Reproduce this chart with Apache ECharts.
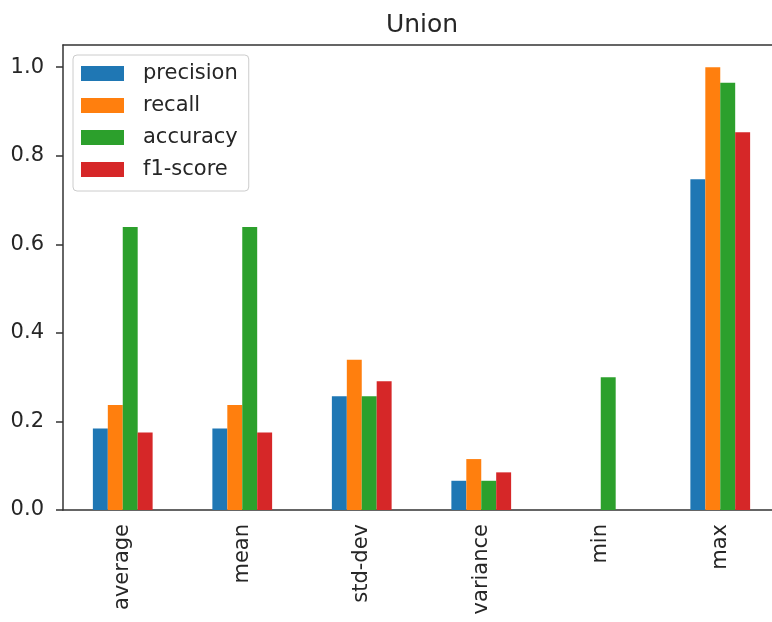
<!DOCTYPE html>
<html>
<head>
<meta charset="utf-8">
<title>Union</title>
<script src="https://cdn.jsdelivr.net/npm/echarts@6/dist/echarts.min.js"></script>
<style>
  html, body { margin: 0; padding: 0; background: #ffffff; }
  #chart { width: 772px; height: 622px; }
</style>
</head>
<body>
<div id="chart"></div>
<script>
// Summary statistics per metric
const categories = ['average', 'mean', 'std-dev', 'variance', 'min', 'max'];
const precision = [0.184, 0.184, 0.257, 0.066, 0.0, 0.747];
const recall    = [0.237, 0.237, 0.339, 0.115, 0.0, 1.0];
const accuracy  = [0.639, 0.639, 0.257, 0.066, 0.300, 0.965];
const f1Score   = [0.175, 0.175, 0.291, 0.085, 0.0, 0.853];
const yTicks = [0.0, 0.2, 0.4, 0.6, 0.8, 1.0];

const seriesNames = ['precision', 'recall', 'accuracy', 'f1-score'];
const seriesColors = ['#1f77b4', '#ff7f0e', '#2ca02c', '#d62728'];
const seriesValues = [precision, recall, accuracy, f1Score];

const FONT = 'DejaVu Sans';
const TEXT = '#262626';
const SPINE = '#333333';

const chart = echarts.init(document.getElementById('chart'), null, { renderer: 'canvas' });

chart.setOption({
  backgroundColor: '#ffffff',
  animation: false,
  title: {
    text: 'Union',
    left: 417, textAlign: 'center',
    top: 8,
    textStyle: { fontFamily: FONT, fontSize: 25, fontWeight: 'normal', color: TEXT }
  },
  legend: {
    orient: 'vertical',
    left: 73, top: 55,
    padding: [8, 11, 11, 8],
    itemWidth: 43, itemHeight: 15,
    itemGap: 11,
    icon: 'rect',
    backgroundColor: 'rgba(255,255,255,0.85)',
    borderColor: '#cccccc', borderWidth: 1, borderRadius: 4,
    textStyle: { fontFamily: FONT, fontSize: 21, color: TEXT, lineHeight: 21, padding: [0, 0, 0, 14] },
    data: seriesNames
  },
  // plot area runs past the right edge of the canvas
  grid: {
    left: 63, top: 45, width: 717, height: 465,
    outerBoundsMode: 'none',
    containLabel: false,
    show: false
  },
  xAxis: [{
    type: 'category',
    data: categories,
    axisLine: { lineStyle: { color: SPINE, width: 1.5 } },
    axisTick: { alignWithLabel: true, length: 7, lineStyle: { color: SPINE, width: 1.5 } },
    axisLabel: { rotate: 90, margin: 14, fontFamily: FONT, fontSize: 21, color: TEXT },
    splitLine: { show: false }
  }, {
    // top spine
    type: 'category',
    position: 'top',
    data: categories,
    axisLine: { show: true, lineStyle: { color: SPINE, width: 1.5 } },
    axisTick: { show: false },
    axisLabel: { show: false },
    splitLine: { show: false }
  }],
  yAxis: {
    type: 'value',
    min: 0, max: 1.05,
    interval: 0.2,
    axisLine: { show: true, lineStyle: { color: SPINE, width: 1.5 } },
    axisTick: { show: true, length: 7, customValues: yTicks, lineStyle: { color: SPINE, width: 1.5 } },
    axisLabel: {
      customValues: yTicks,
      margin: 19, fontFamily: FONT, fontSize: 21, color: TEXT,
      formatter: v => v.toFixed(1)
    },
    splitLine: { show: false }
  },
  series: seriesNames.map((name, i) => ({
    name: name,
    type: 'bar',
    xAxisIndex: 0,
    data: seriesValues[i],
    barWidth: '12.5%',
    barGap: '0%',
    itemStyle: { color: seriesColors[i] }
  }))
});
</script>
</body>
</html>
